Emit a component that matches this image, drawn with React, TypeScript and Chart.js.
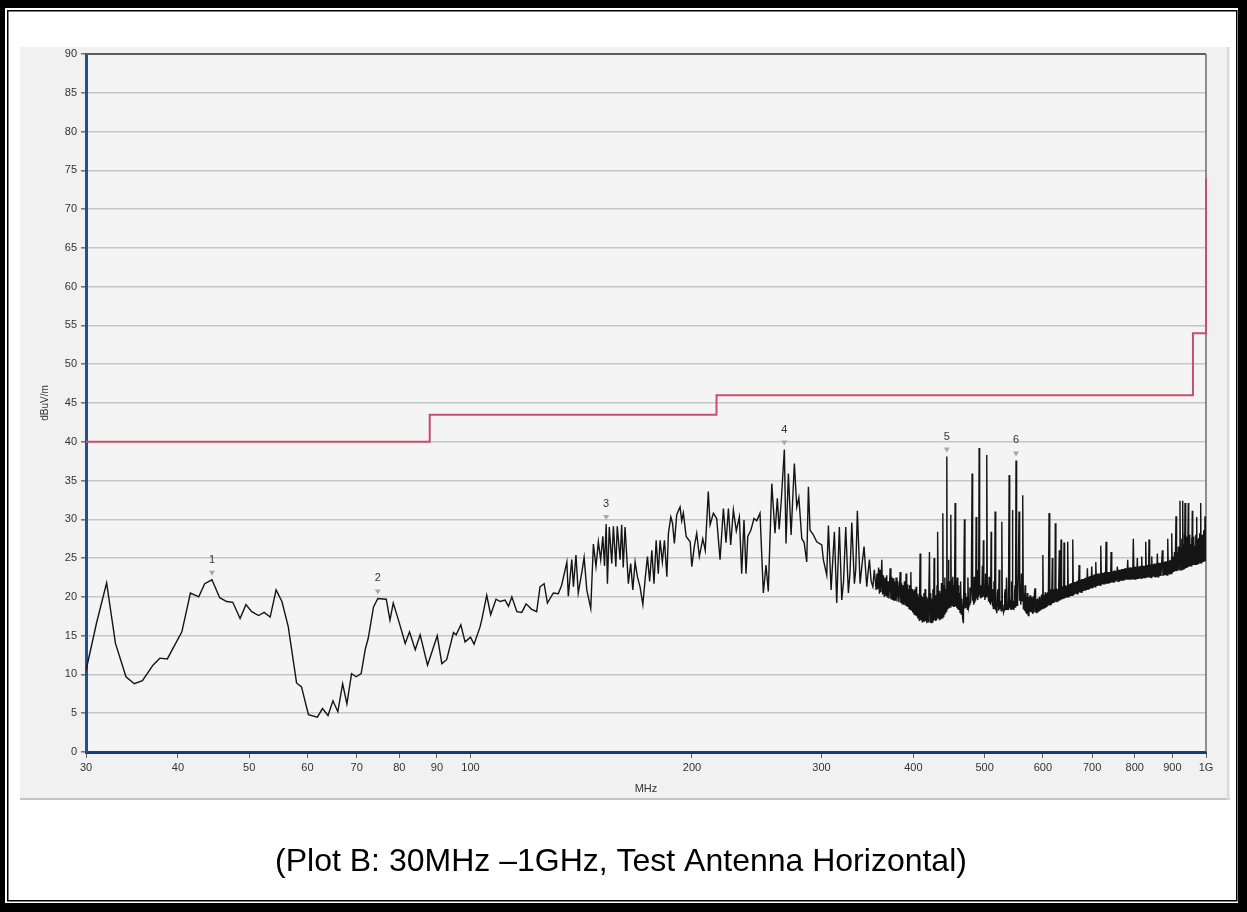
import React, { useEffect, useRef } from 'react';
import { Chart, registerables } from 'chart.js';

Chart.register(...registerables);

// ---- Axis ticks ----
const xTickValues = [30, 40, 50, 60, 70, 80, 90, 100, 200, 300, 400, 500, 600, 700, 800, 900, 1000];
const xTickLabels = ['30', '40', '50', '60', '70', '80', '90', '100', '200', '300', '400', '500', '600', '700', '800', '900', '1G'];

// ---- Limit line (MHz, dBuV/m) ----
const limitFreq = [30, 88, 88, 216, 216, 960, 960, 1000, 1000];
const limitLevel = [40, 40, 43.5, 43.5, 46, 46, 54, 54, 74];

// ---- Markers ----
const markerLabels = ['1', '2', '3', '4', '5', '6'];
const markerFreq = [44.5, 74.8, 152.9, 267.1, 444.2, 551.7];
const markerLevel = [22.2, 19.8, 29.4, 39.0, 38.1, 37.6];

// ---- Measured trace (MHz, dBuV/m) ----
const trace30to103: [number, number][] = [
  [30.0, 10.5], [31.0, 16.6], [32.0, 21.8], [32.9, 14.0], [34.0, 9.7], [34.9, 8.8], [35.8, 9.2], [37.0, 11.2],
  [37.8, 12.1], [38.7, 12.0], [40.5, 15.5], [41.6, 20.5], [42.7, 20.0], [43.5, 21.7], [44.5, 22.2], [45.6, 19.9],
  [46.6, 19.4], [47.5, 19.3], [48.6, 17.2], [49.5, 19.0], [50.4, 18.1], [51.5, 17.6], [52.4, 18.0], [53.4, 17.4],
  [54.4, 20.9], [55.4, 19.4], [56.5, 16.2], [58.0, 8.9], [58.9, 8.4], [60.2, 4.8], [61.9, 4.5], [62.9, 5.6],
  [64.0, 4.7], [65.0, 6.6], [66.0, 5.2], [67.0, 8.8], [67.9, 6.2], [68.9, 10.1], [69.9, 9.7], [71.0, 10.1],
  [71.9, 13.2], [72.6, 14.7], [73.8, 18.7], [74.8, 19.8], [76.8, 19.7], [77.7, 17.0], [78.5, 19.2], [79.8, 17.0],
  [81.5, 14.0], [82.6, 15.5], [84.1, 13.2], [85.4, 15.1], [87.4, 11.2], [90.1, 15.0], [91.4, 11.4], [92.8, 11.9],
  [94.8, 15.4], [95.6, 15.1], [97.0, 16.4], [98.3, 14.2], [100.0, 14.8], [101.1, 13.9], [103.0, 16.1],
];

const trace103to300: [number, number][] = [
  [103.6, 17.1], [105.2, 20.2], [106.5, 17.7], [108.3, 19.7], [109.7, 19.4], [111.4, 19.6], [112.6, 18.8], [113.8, 20.0],
  [115.6, 18.1], [117.4, 18.0], [119.0, 19.1], [121.1, 18.4], [123.0, 18.1], [124.3, 21.3], [125.9, 21.7], [127.2, 19.2],
  [129.6, 20.5], [131.6, 20.4], [133.0, 21.5], [135.2, 24.5], [135.8, 20.1], [137.3, 24.8], [138.0, 21.3], [139.1, 25.4],
  [140.1, 20.5], [141.7, 23.2], [142.7, 25.1], [143.9, 20.9], [145.7, 18.5], [146.9, 26.8], [148.1, 23.9], [149.2, 27.1],
  [150.3, 24.8], [151.3, 27.8], [152.1, 24.0], [152.9, 29.4], [153.5, 21.7], [154.4, 29.0], [155.6, 24.3], [156.4, 29.1],
  [157.6, 23.9], [158.3, 29.1], [159.7, 24.8], [160.5, 29.3], [161.3, 23.8], [162.2, 29.0], [163.9, 21.7], [165.1, 24.3],
  [166.2, 20.9], [167.4, 24.5], [168.6, 22.6], [170.0, 21.3], [171.5, 19.0], [172.7, 22.2], [174.0, 25.2], [175.2, 22.0],
  [176.4, 26.0], [177.6, 21.7], [178.8, 27.3], [180.0, 23.0], [181.0, 27.3], [182.3, 24.5], [183.5, 27.3], [184.9, 22.6],
  [185.8, 28.2], [187.2, 30.3], [188.2, 29.5], [189.3, 26.9], [190.7, 30.6], [192.7, 31.6], [193.7, 29.8], [194.7, 30.8],
  [196.4, 27.8], [198.9, 27.1], [199.9, 23.9], [201.5, 26.5], [203.0, 28.2], [204.7, 25.2], [206.9, 27.5], [208.5, 26.0],
  [210.5, 33.6], [211.7, 29.3], [213.9, 30.8], [216.1, 30.1], [218.4, 24.8], [220.7, 31.4], [222.5, 27.0], [224.2, 31.4],
  [225.8, 26.7], [227.7, 31.2], [229.8, 28.5], [232.0, 30.3], [233.7, 23.0], [235.4, 29.9], [236.9, 23.0], [238.2, 27.8],
  [240.5, 28.6], [242.9, 30.1], [245.0, 29.8], [247.5, 30.8], [250.1, 20.5], [252.2, 24.1], [254.0, 20.7], [256.8, 34.6],
  [259.4, 28.2], [261.3, 32.7], [262.8, 28.7], [264.5, 32.3], [267.1, 39.0], [268.5, 26.9], [270.5, 35.9], [272.8, 28.0],
  [275.6, 37.2], [277.7, 31.6], [279.5, 32.8], [282.1, 27.5], [284.2, 27.0], [286.5, 24.5], [288.0, 34.2], [289.5, 28.6],
  [292.5, 28.0], [295.6, 27.1], [300.3, 26.7],
];

const trace300to470: [number, number][] = [
  [301.8, 24.8], [305.0, 22.8], [306.6, 29.2], [309.2, 20.9], [312.4, 28.4], [314.7, 19.2], [317.3, 29.0], [319.7, 19.6],
  [321.5, 22.0], [323.7, 29.0], [326.4, 20.5], [328.0, 23.0], [329.9, 29.6], [332.6, 21.7], [334.0, 23.5], [335.7, 31.1],
  [338.6, 21.7], [340.5, 24.0], [342.8, 26.5], [345.7, 21.3], [347.0, 23.0], [348.6, 24.8], [350.5, 22.0], [352.4, 21.3],
  [354.0, 23.5], [356.0, 20.9], [357.0, 23.0], [357.8, 21.0], [358.8, 23.8], [359.7, 20.4], [360.5, 23.5], [361.3, 20.6],
  [362.4, 24.8], [363.3, 20.3], [364.2, 22.8], [365.2, 20.0], [366.2, 22.5], [367.1, 20.1], [368.0, 22.8], [368.8, 19.9],
  [369.5, 22.0], [370.6, 19.8], [372.0, 23.7], [372.9, 19.7], [373.8, 22.6], [374.7, 19.6], [375.5, 22.4], [376.3, 19.5],
  [377.0, 22.0], [378.0, 19.5], [379.0, 22.5], [380.0, 19.4], [381.0, 22.0], [382.4, 19.3], [383.8, 23.2], [384.7, 19.2],
  [385.5, 21.8], [386.3, 19.1], [387.1, 21.5], [388.0, 19.0], [389.0, 22.0], [390.0, 18.9], [391.1, 23.0], [391.8, 18.8],
  [392.5, 21.6], [393.2, 18.7], [393.9, 21.0], [394.7, 18.5], [395.5, 21.5], [396.2, 18.4], [396.9, 23.2], [397.7, 18.2],
  [398.5, 21.0], [399.2, 18.0], [400.0, 20.8], [400.9, 17.8], [401.8, 21.0], [402.6, 17.6], [403.5, 21.3], [404.2, 17.5],
  [405.0, 20.4], [405.7, 17.2], [406.4, 20.0], [407.5, 16.9], [408.6, 25.6], [409.4, 17.0], [410.3, 20.2], [411.2, 16.8],
  [412.1, 20.0], [412.8, 17.0], [413.5, 20.5], [414.2, 16.8], [415.0, 21.0], [415.8, 16.9], [416.5, 20.0], [417.2, 16.6],
  [418.0, 19.8], [419.3, 16.7], [420.7, 25.8], [421.5, 16.8], [422.3, 20.5], [423.0, 16.7], [423.8, 19.8], [424.5, 16.8],
  [425.3, 21.0], [426.1, 17.0], [426.9, 25.0], [427.6, 17.0], [428.3, 20.2], [429.0, 16.9], [429.6, 20.0], [430.2, 17.0],
  [430.8, 21.5], [431.3, 17.2], [431.9, 28.4], [432.7, 17.2], [433.5, 20.8], [434.2, 17.0], [435.0, 20.5], [435.9, 17.1],
  [436.8, 21.8], [437.7, 17.3], [438.7, 30.8], [439.3, 17.5], [440.0, 21.5], [440.8, 17.8], [441.5, 22.5], [442.2, 18.0],
  [442.8, 21.0], [443.5, 18.2], [444.2, 38.1], [444.8, 18.5], [445.4, 22.0], [446.0, 18.6], [446.5, 24.8], [447.2, 18.8],
  [448.0, 22.0], [448.9, 18.7], [449.8, 30.6], [450.5, 18.9], [451.3, 22.2], [452.0, 19.0], [452.6, 22.6], [453.4, 18.8],
  [454.2, 21.5], [455.0, 18.7], [455.9, 32.1], [456.7, 18.8], [457.5, 22.0], [458.2, 18.6], [459.0, 22.5], [459.8, 18.4],
  [460.5, 21.5], [461.3, 18.3], [462.1, 20.5], [463.0, 18.0], [463.8, 22.0], [464.7, 17.8], [465.6, 19.8], [466.8, 17.2],
  [467.9, 16.6],
];

const trace470to556: [number, number][] = [
  [469.4, 30.0], [470.2, 18.5], [471.0, 20.5], [472.0, 18.7], [472.9, 20.0], [473.7, 18.4], [474.5, 22.5], [475.5, 18.6],
  [476.5, 19.0], [477.5, 21.2], [478.5, 19.2], [479.6, 21.0], [480.8, 35.9], [481.6, 19.5], [482.5, 20.5], [483.2, 19.0],
  [483.9, 22.6], [484.7, 19.2], [485.5, 20.8], [486.2, 19.5], [486.9, 30.3], [487.8, 19.8], [488.8, 20.5], [489.4, 19.6],
  [490.0, 23.5], [490.7, 20.0], [491.5, 39.2], [492.3, 20.2], [493.0, 21.5], [493.8, 19.8], [494.6, 21.3], [495.5, 19.9],
  [496.5, 24.0], [497.3, 20.0], [498.1, 27.3], [498.8, 20.1], [499.5, 21.0], [500.5, 19.6], [501.5, 23.0], [502.5, 20.0],
  [503.4, 38.3], [504.3, 20.2], [505.2, 21.5], [506.2, 19.4], [507.1, 22.6], [508.0, 19.2], [508.8, 20.5], [509.5, 19.0],
  [510.3, 28.4], [511.0, 19.3], [511.8, 21.0], [512.4, 18.8], [513.0, 19.6], [513.9, 18.5], [514.8, 22.0], [515.8, 18.4],
  [516.7, 31.0], [517.4, 18.3], [518.0, 19.0], [518.8, 18.2], [519.5, 17.9], [520.5, 20.5], [521.5, 21.0], [522.4, 18.2],
  [523.2, 23.5], [524.3, 18.4], [525.5, 19.5], [526.6, 18.2], [527.7, 29.7], [528.6, 18.5], [529.5, 19.0], [530.5, 18.0],
  [531.5, 18.3], [532.5, 20.5], [533.5, 21.0], [534.5, 18.3], [535.5, 22.5], [536.5, 18.4], [537.5, 19.0], [538.7, 18.3],
  [539.9, 35.7], [540.5, 18.6], [541.2, 20.0], [542.0, 18.5], [542.7, 19.6], [543.3, 18.4], [544.0, 22.0], [544.8, 18.5],
  [545.5, 31.2], [546.2, 18.6], [547.0, 19.5], [547.7, 18.3], [548.3, 18.7], [549.2, 20.5], [550.0, 21.5], [550.8, 18.6],
  [551.7, 37.6], [552.4, 18.8], [553.0, 20.0], [553.5, 18.9], [554.0, 21.7], [554.8, 19.0], [555.5, 23.0],
];

const trace556to760: [number, number][] = [
  [556.9, 31.0], [558.0, 19.5], [559.0, 21.5], [560.0, 19.0], [561.0, 23.0], [562.2, 19.5], [563.4, 33.1], [564.5, 18.5],
  [565.5, 20.5], [566.5, 18.2], [567.5, 21.5], [568.5, 18.0], [569.5, 20.0], [570.5, 17.8], [571.5, 20.5], [572.4, 18.2],
  [573.3, 17.6], [574.4, 20.0], [575.5, 18.0], [576.5, 20.2], [577.5, 18.1], [578.5, 20.0], [579.5, 18.0], [580.5, 19.8],
  [581.5, 17.8], [582.5, 20.1], [583.5, 18.0], [584.5, 20.5], [585.5, 21.1], [586.5, 18.0], [587.5, 19.5], [588.5, 17.9],
  [589.5, 19.8], [590.5, 18.0], [591.6, 19.6], [592.5, 18.1], [593.5, 20.0], [594.5, 18.2], [595.5, 19.6], [596.5, 18.3],
  [597.5, 20.3], [598.8, 18.5], [600.0, 25.4], [601.0, 18.6], [602.0, 20.2], [603.2, 18.5], [604.5, 20.6], [605.5, 18.6],
  [606.5, 20.4], [607.8, 18.7], [609.0, 20.6], [610.3, 18.9], [611.8, 30.8], [612.7, 18.9], [613.5, 20.8], [614.5, 19.0],
  [615.5, 21.0], [616.8, 19.1], [618.1, 25.0], [619.0, 19.2], [620.0, 20.9], [621.0, 19.2], [622.0, 21.0], [623.0, 19.3],
  [623.9, 29.5], [625.0, 19.4], [626.0, 21.1], [627.2, 19.4], [628.5, 21.0], [630.0, 19.5], [631.8, 26.0], [632.6, 19.5],
  [633.5, 21.2], [634.3, 19.6], [635.2, 27.4], [636.3, 19.7], [637.5, 21.3], [638.5, 19.7], [639.5, 21.4], [640.3, 19.8],
  [641.2, 27.0], [642.3, 19.8], [643.5, 21.5], [644.8, 19.9], [646.0, 21.4], [647.3, 20.0], [648.6, 27.1], [649.8, 20.0],
  [651.0, 21.6], [652.2, 20.1], [653.5, 21.7], [654.8, 20.1], [656.0, 21.8], [657.5, 20.2], [658.9, 27.4], [660.2, 20.2],
  [661.5, 21.9], [662.8, 20.3], [664.0, 21.9], [665.5, 20.4], [667.0, 22.0], [668.3, 20.4], [669.5, 22.1], [670.8, 20.5],
  [672.1, 24.1], [673.5, 20.6], [675.0, 22.2], [676.5, 20.6], [678.0, 22.3], [679.5, 20.7], [681.0, 22.3], [682.5, 20.8],
  [684.0, 22.4], [685.5, 20.8], [687.0, 22.5], [688.4, 20.9], [689.8, 23.7], [691.2, 21.0], [692.5, 22.6], [694.0, 21.0],
  [695.5, 22.7], [697.4, 21.1], [699.3, 23.9], [700.6, 21.2], [702.0, 22.8], [703.5, 21.3], [705.0, 22.9], [706.6, 21.3],
  [708.2, 24.5], [709.6, 21.4], [711.0, 23.0], [712.5, 21.4], [714.0, 23.0], [715.2, 21.5], [716.5, 23.0], [717.9, 21.5],
  [719.3, 26.6], [720.9, 21.6], [722.5, 23.1], [724.0, 21.6], [725.5, 23.1], [727.0, 21.7], [728.5, 23.2], [730.0, 21.7],
  [731.4, 27.1], [733.0, 21.7], [734.5, 23.2], [736.0, 21.8], [737.5, 23.2], [739.0, 21.8], [740.5, 23.2], [741.7, 21.8],
  [742.9, 25.8], [744.5, 21.9], [746.0, 23.3], [747.8, 21.9], [749.5, 23.4], [751.3, 21.9], [753.0, 23.4], [755.3, 22.0],
  [757.6, 23.9], [759.3, 22.0],
];

const trace760to1000: [number, number][] = [
  [761.0, 23.5], [762.8, 22.0], [764.5, 23.5], [766.3, 22.1], [768.0, 23.6], [769.8, 22.1], [771.5, 23.6], [773.3, 22.1],
  [775.0, 23.7], [776.8, 22.2], [778.5, 23.7], [780.5, 22.2], [782.6, 24.8], [784.3, 22.2], [786.0, 23.8], [787.8, 22.2],
  [789.5, 23.8], [791.3, 22.3], [793.0, 23.8], [794.8, 22.3], [796.5, 27.5], [798.3, 22.3], [800.0, 23.9], [801.5, 22.3],
  [803.0, 23.9], [804.8, 22.3], [806.5, 25.0], [808.3, 22.4], [810.0, 23.9], [812.0, 22.4], [814.0, 24.0], [815.9, 22.4],
  [817.7, 25.2], [819.4, 22.4], [821.0, 24.0], [822.8, 22.4], [824.5, 24.0], [826.3, 22.5], [828.0, 27.1], [829.8, 22.5],
  [831.5, 24.1], [832.8, 22.5], [834.0, 24.1], [835.3, 22.5], [836.6, 27.4], [838.3, 22.5], [840.0, 24.2], [841.9, 22.5],
  [843.8, 25.2], [845.7, 22.6], [847.5, 24.2], [849.3, 22.6], [851.0, 24.3], [853.0, 22.6], [855.0, 24.3], [856.9, 22.6],
  [858.7, 25.6], [860.5, 22.6], [862.5, 24.4], [864.5, 22.7], [866.5, 24.4], [868.5, 22.7], [870.5, 24.5], [872.3, 26.0],
  [874.0, 22.7], [876.0, 24.5], [878.0, 22.8], [880.0, 24.6], [882.0, 22.8], [884.0, 24.6], [885.5, 22.8], [887.1, 27.5],
  [889.0, 22.9], [891.0, 24.7], [893.0, 22.9], [894.5, 24.8], [896.5, 23.0], [898.3, 28.2], [900.0, 23.1], [902.0, 25.2],
  [904.0, 23.2], [906.0, 25.8], [908.0, 23.3], [910.4, 30.4], [912.0, 23.3], [913.5, 25.8], [915.5, 23.4], [917.0, 26.5],
  [918.5, 23.4], [919.5, 25.6], [921.8, 32.4], [923.0, 23.5], [924.5, 26.3], [926.0, 23.5], [927.0, 27.5], [928.3, 23.6],
  [929.7, 32.4], [931.0, 23.6], [932.5, 26.8], [933.5, 23.7], [934.5, 28.0], [935.5, 23.8], [936.4, 32.1], [937.7, 23.7],
  [939.0, 26.6], [940.3, 23.8], [941.5, 27.8], [942.5, 23.9], [943.5, 27.0], [944.8, 23.9], [946.1, 32.1], [947.3, 23.9],
  [948.5, 27.2], [949.8, 24.0], [951.0, 28.0], [952.2, 24.0], [953.5, 26.8], [954.8, 24.0], [956.0, 27.6], [957.0, 24.1],
  [958.0, 31.1], [959.3, 24.1], [960.5, 27.0], [961.8, 24.1], [963.0, 27.8], [964.3, 24.2], [965.5, 26.6], [967.0, 24.2],
  [968.5, 28.0], [970.0, 24.2], [971.3, 30.3], [972.7, 24.3], [974.0, 27.4], [975.3, 24.3], [976.5, 27.6], [977.8, 24.3],
  [979.0, 26.6], [980.0, 24.4], [981.0, 28.2], [982.3, 24.4], [983.5, 32.1], [984.8, 24.4], [986.0, 27.4], [987.3, 24.5],
  [988.5, 28.0], [989.8, 24.5], [991.0, 27.0], [992.3, 24.5], [993.5, 28.6], [995.0, 24.6], [996.9, 30.4], [998.0, 24.6],
  [999.0, 27.0], [1000.0, 25.5],
];

const caption = '(Plot B: 30MHz \u20131GHz, Test Antenna Horizontal)';

const W = 1247;
const H = 912;
const FONT = '"Liberation Sans", Arial, sans-serif';

const decorPlugin = {
  id: 'decor',
  beforeDraw(chart: any) {
    const ctx = chart.ctx as CanvasRenderingContext2D;
    const { left, top, right, bottom } = chart.chartArea;
    ctx.save();
    ctx.fillStyle = '#ffffff';
    ctx.fillRect(0, 0, W, H);
    // chart panel
    ctx.fillStyle = '#f1f1f1';
    ctx.fillRect(20, 47, 1210, 753);
    ctx.fillStyle = '#f4f4f4';
    ctx.fillRect(left, top, right - left, bottom - top);
    ctx.fillStyle = '#c4c4c4';
    ctx.fillRect(20, 798, 1210, 2);
    ctx.fillStyle = '#dadada';
    ctx.fillRect(1227, 47, 2, 753);
    // page frame
    ctx.fillStyle = '#000000';
    ctx.fillRect(0, 0, W, 8);
    ctx.fillRect(0, 0, 5, H);
    ctx.fillRect(1238, 0, 9, H);
    ctx.fillRect(0, 903, W, 9);
    ctx.strokeStyle = '#000000';
    ctx.lineWidth = 1.5;
    ctx.strokeRect(7.75, 10.75, 1229, 890);
    ctx.restore();
  },
  beforeDatasetsDraw(chart: any) {
    const ctx = chart.ctx as CanvasRenderingContext2D;
    const { left, top, right, bottom } = chart.chartArea;
    ctx.save();
    ctx.strokeStyle = '#5c5c5c';
    ctx.lineWidth = 2;
    ctx.beginPath();
    ctx.moveTo(left, top);
    ctx.lineTo(right, top);
    ctx.stroke();
    ctx.strokeStyle = '#6e6e6e';
    ctx.lineWidth = 1.5;
    ctx.beginPath();
    ctx.moveTo(right, top);
    ctx.lineTo(right, bottom);
    ctx.stroke();
    ctx.restore();
  },
  afterDraw(chart: any) {
    const ctx = chart.ctx as CanvasRenderingContext2D;
    const xs = chart.scales.x;
    const ys = chart.scales.y;
    ctx.save();
    markerFreq.forEach((f, i) => {
      const px = xs.getPixelForValue(f);
      const py = ys.getPixelForValue(markerLevel[i]);
      ctx.fillStyle = '#a8a8a8';
      ctx.beginPath();
      ctx.moveTo(px - 3, py - 9);
      ctx.lineTo(px + 3, py - 9);
      ctx.lineTo(px, py - 4);
      ctx.closePath();
      ctx.fill();
      ctx.fillStyle = '#333333';
      ctx.font = `11px ${FONT}`;
      ctx.textAlign = 'center';
      ctx.textBaseline = 'middle';
      ctx.fillText(markerLabels[i], px, py - 20);
    });
    ctx.fillStyle = '#000000';
    ctx.font = `32px ${FONT}`;
    ctx.textAlign = 'center';
    ctx.textBaseline = 'alphabetic';
    ctx.fillText(caption, 621, 871);
    ctx.restore();
  },
};

export default function App() {
  const canvasRef = useRef<HTMLCanvasElement | null>(null);

  useEffect(() => {
    const canvas = canvasRef.current;
    if (!canvas) return;
    const trace = [
      ...trace30to103,
      ...trace103to300,
      ...trace300to470,
      ...trace470to556,
      ...trace556to760,
      ...trace760to1000,
    ];
    const chart = new Chart(canvas, {
      type: 'line',
      data: {
        datasets: [
          {
            label: 'Limit',
            data: limitFreq.map((f, i) => ({ x: f, y: limitLevel[i] })),
            borderColor: '#c4506f',
            borderWidth: 2,
            pointRadius: 0,
            tension: 0,
            fill: false,
            clip: 4,
          },
          {
            label: 'Trace',
            data: trace.map(([f, v]) => ({ x: f, y: v })),
            borderColor: '#141414',
            borderWidth: 1.4,
            pointRadius: 0,
            tension: 0,
            fill: false,
          },
        ],
      },
      options: {
        animation: false,
        responsive: false,
        maintainAspectRatio: false,
        devicePixelRatio: 1,
        layout: { padding: { left: 20, top: 54, right: 41, bottom: 0 } },
        plugins: { legend: { display: false }, tooltip: { enabled: false } },
        scales: {
          x: {
            type: 'logarithmic',
            min: 30,
            max: 1000,
            afterBuildTicks: (s: any) => {
              s.ticks = xTickValues.map((v) => ({ value: v }));
            },
            afterFit: (s: any) => {
              s.height = 160;
            },
            ticks: {
              autoSkip: false,
              maxRotation: 0,
              padding: 3,
              color: '#333333',
              font: { family: FONT, size: 11 },
              callback: (v: any) => {
                const i = xTickValues.indexOf(Number(v));
                return i >= 0 ? xTickLabels[i] : '';
              },
            },
            grid: { drawOnChartArea: false, drawTicks: true, tickLength: 6, tickColor: '#56606e', tickWidth: 1 },
            border: { display: true, color: '#123f76', width: 3 },
            title: {
              display: true,
              text: 'MHz',
              color: '#333333',
              font: { family: FONT, size: 11 },
              padding: { top: 0, bottom: 116 },
            },
          },
          y: {
            type: 'linear',
            min: 0,
            max: 90,
            afterFit: (s: any) => {
              s.width = 66;
            },
            ticks: { stepSize: 5, padding: 4, color: '#333333', font: { family: FONT, size: 11 } },
            grid: { color: '#c6c6c6', lineWidth: 1.6, drawTicks: true, tickLength: 5, tickColor: '#777777' },
            border: { display: true, color: '#1d5290', width: 3 },
            title: {
              display: true,
              text: 'dBuV/m',
              color: '#333333',
              font: { family: FONT, size: 10 },
              padding: { top: 19, bottom: 0 },
            },
          },
        },
      },
      plugins: [decorPlugin],
    } as any);
    return () => chart.destroy();
  }, []);

  return (
    <div style={{ position: 'absolute', left: 0, top: 0, width: W, height: H }}>
      <canvas ref={canvasRef} width={W} height={H} style={{ display: 'block', width: W, height: H }} />
    </div>
  );
}
